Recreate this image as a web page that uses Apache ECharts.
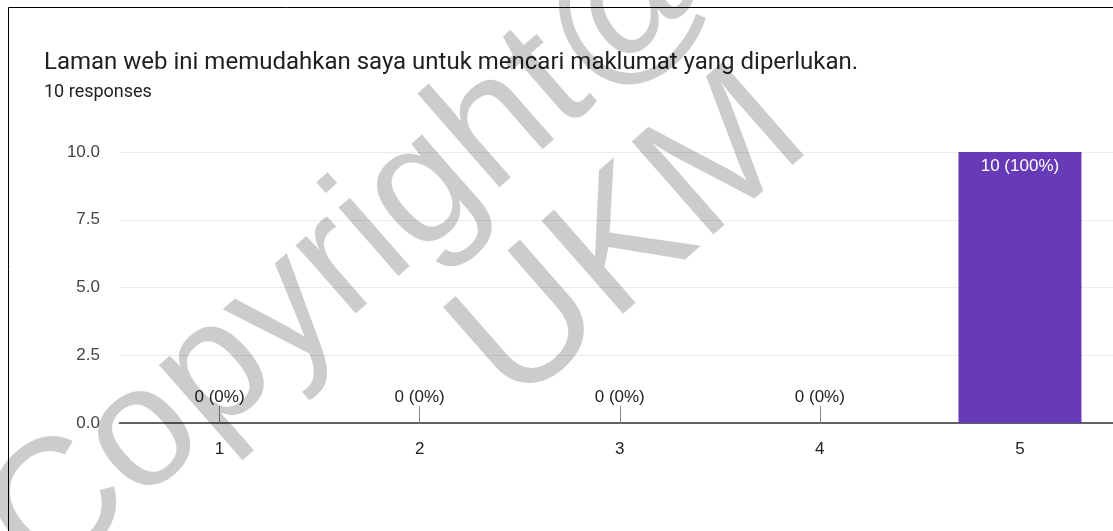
<!DOCTYPE html>
<html>
<head>
<meta charset="utf-8">
<script src="https://cdn.jsdelivr.net/npm/echarts@6/dist/echarts.min.js"></script>
<style>
  html, body { margin: 0; padding: 0; background: #fff; overflow: hidden; }
  /* a bit wider than the window: the last category band runs past the right edge */
  #main { width: 1120px; height: 531px; }
</style>
</head>
<body>
<div id="main"></div>
<script>
// data
const questionText = 'Laman web ini memudahkan saya untuk mencari maklumat yang diperlukan.';
const responsesText = '10 responses';
const categories = ['1', '2', '3', '4', '5'];
const counts = [0, 0, 0, 0, 10];
const yMax = 10;
const yStep = 2.5;

const total = counts.reduce((a, b) => a + b, 0);
const labelFont = 'Liberation Sans';

let chart = echarts.init(document.getElementById('main'));

let barData = counts.map(function (v) {
    if (v > 0) {
        return { value: v, label: { position: 'insideTop', distance: 6, color: '#fff' } };
    }
    return { value: v };
});

let option = {
    animation: false,
    title: [
        {
            text: questionText,
            left: 44,
            top: 51,
            padding: 0,
            textStyle: { fontFamily: 'Roboto', fontSize: 24, fontWeight: 'normal', color: '#202124' }
        },
        {
            text: responsesText,
            left: 44,
            top: 83,
            padding: 0,
            textStyle: { fontFamily: 'Roboto', fontSize: 18, fontWeight: 'normal', color: '#202124' }
        }
    ],
    grid: {
        left: 119.5,
        right: 0,
        top: 152,
        bottom: 108
    },
    xAxis: {
        type: 'category',
        data: categories,
        axisLine: { lineStyle: { color: '#333', width: 1.5 } },
        axisTick: { show: true, inside: true, length: 17, alignWithLabel: true, lineStyle: { color: '#888' } },
        axisLabel: { color: '#222', fontFamily: labelFont, fontSize: 17, margin: 18 }
    },
    yAxis: {
        type: 'value',
        min: 0,
        max: yMax,
        interval: yStep,
        axisLine: { show: false },
        axisTick: { show: false },
        axisLabel: {
            color: '#444', fontFamily: labelFont, fontSize: 17, margin: 19.5,
            formatter: function (v) { return v.toFixed(1); }
        },
        splitLine: { lineStyle: { color: '#ebebeb', width: 1 } }
    },
    series: [
        {
            type: 'bar',
            data: barData,
            barWidth: 123,
            itemStyle: { color: '#673ab7' },
            label: {
                show: true,
                position: 'top',
                distance: 17,
                color: '#222',
                fontFamily: labelFont,
                fontSize: 17,
                formatter: function (p) {
                    return p.value + ' (' + Math.round(p.value / total * 100) + '%)';
                }
            }
        }
    ],
    graphic: [
        {
            type: 'rect',
            z: 50,
            shape: { x: 8.5, y: 7.5, width: 1200, height: 600 },
            style: { fill: 'none', stroke: '#000', lineWidth: 1 }
        },
        // watermark, drawn on top with a light grey tint
        {
            type: 'text',
            z: 100,
            x: 356, y: 250,
            rotation: 0.72,
            style: {
                text: 'Copyright@',
                fontFamily: 'Liberation Sans',
                fontSize: 172,
                fill: 'rgba(0,0,0,0.2)',
                align: 'center',
                verticalAlign: 'middle'
            }
        },
        {
            type: 'text',
            z: 100,
            x: 632, y: 240,
            rotation: 0.72,
            style: {
                text: 'UKM',
                fontFamily: 'Liberation Sans',
                fontSize: 180,
                fill: 'rgba(0,0,0,0.2)',
                align: 'center',
                verticalAlign: 'middle'
            }
        }
    ]
};

chart.setOption(option);
</script>
</body>
</html>
